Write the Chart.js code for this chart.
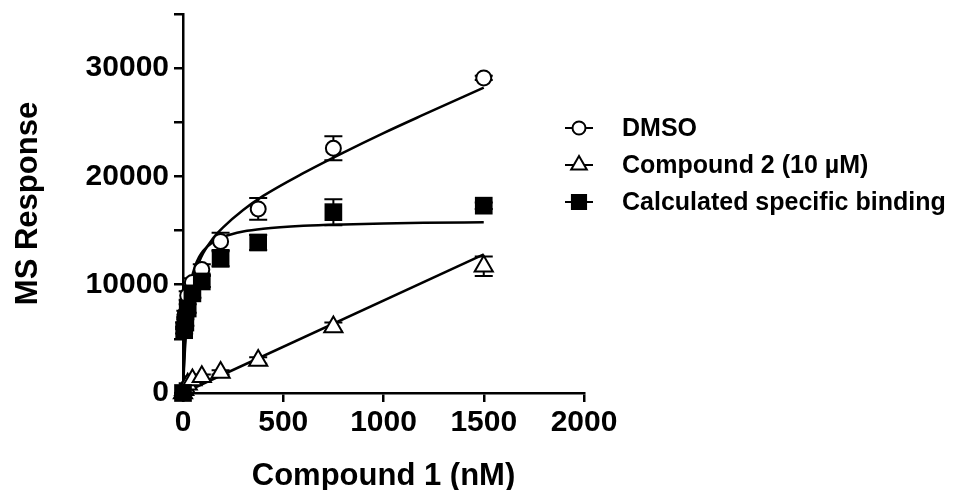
<!DOCTYPE html>
<html>
<head>
<meta charset="utf-8">
<script src="https://cdn.jsdelivr.net/npm/chart.js@4"></script>
<style>
html, body { margin: 0; padding: 0; background: #fff; }
#wrap { width: 957px; height: 490px; }
</style>
</head>
<body>
<div id="wrap"><canvas id="bindingChart"></canvas></div>
<script>
// Nồng độ Compound 1 (nM) và giá trị
const concentrations = [0, 5.86, 11.7, 23.4, 46.9, 93.75, 187.5, 375, 750, 1500];
const dmsoMean = [0, 6200, 7300, 9000, 10200, 11400, 14000, 17000, 22600, 29100];
const dmsoSd = [0, 300, 300, 400, 400, 500, 800, 1000, 1100, 200];
const cmpd2Mean = [0, 300, 500, 800, 1200, 1500, 1900, 3000, 6100, 11700];
const cmpd2Sd = [0, 100, 100, 100, 150, 200, 200, 300, 400, 900];
const specMean = [0, 5800, 6500, 7800, 9200, 10300, 12400, 13900, 16700, 17300];
const specSd = [0, 300, 300, 400, 400, 500, 700, 700, 1200, 300];

// Đường fit (đọc theo hình)
const fitX = [0, 2, 5, 10, 20, 30, 40, 60, 80, 100, 150, 200, 300, 400, 600, 800, 1000, 1200, 1500];
const dmsoFit = [0, 1000, 2300, 4100, 6600, 8300, 9500, 11100, 12100, 12900, 14300, 15300, 16900, 18200, 20300, 22200, 24000, 25700, 28200];
const specFit = [0, 1333, 2963, 5000, 7619, 9231, 10323, 11707, 12549, 13115, 13953, 14414, 14907, 15166, 15434, 15572, 15656, 15712, 15769];
const nsFitX = [0, 1500];
const nsFit = [0, 12800];

const xTickLabels = [0, 500, 1000, 1500, 2000];
const yTickLabels = [0, 10000, 20000, 30000];

const legendLabels = ['DMSO', 'Compound 2 (10 \u00b5M)', 'Calculated specific binding'];

const toPoints = (xs, ys) => xs.map((x, i) => ({ x: x, y: ys[i] }));

const errorBars = {
    id: 'errorBars',
    beforeDatasetsDraw(chart) {
        const { ctx, scales: { x, y } } = chart;
        ctx.save();
        ctx.strokeStyle = '#000';
        ctx.lineWidth = 2;
        chart.data.datasets.forEach(ds => {
            if (!ds.errors) return;
            ds.data.forEach((p, i) => {
                const e = ds.errors[i];
                if (!e) return;
                const px = x.getPixelForValue(p.x);
                const top = y.getPixelForValue(p.y + e);
                const bot = y.getPixelForValue(Math.max(0, p.y - e));
                ctx.beginPath();
                ctx.moveTo(px, top); ctx.lineTo(px, bot);
                ctx.moveTo(px - 9, top); ctx.lineTo(px + 9, top);
                ctx.moveTo(px - 9, bot); ctx.lineTo(px + 9, bot);
                ctx.stroke();
            });
        });
        ctx.restore();
    }
};

function drawMarker(ctx, style, cx, cy, r) {
    ctx.beginPath();
    if (style === 'circle') {
        ctx.arc(cx, cy, r, 0, Math.PI * 2);
        ctx.fillStyle = '#fff';
    } else if (style === 'triangle') {
        ctx.moveTo(cx, cy - r);
        ctx.lineTo(cx + r * 0.866, cy + r * 0.5);
        ctx.lineTo(cx - r * 0.866, cy + r * 0.5);
        ctx.closePath();
        ctx.fillStyle = '#fff';
    } else {
        ctx.rect(cx - r * 0.707, cy - r * 0.707, r * 1.414, r * 1.414);
        ctx.fillStyle = '#000';
    }
    ctx.fill();
    ctx.stroke();
}

const sideLegend = {
    id: 'sideLegend',
    afterDraw(chart) {
        const ctx = chart.ctx;
        const rows = [128, 165, 202];
        const styles = ['circle', 'triangle', 'rect'];
        const radii = [6.5, 9, 10];
        ctx.save();
        ctx.strokeStyle = '#000';
        ctx.lineWidth = 2;
        ctx.fillStyle = '#000';
        ctx.font = 'bold 25px "Liberation Sans", Arial, sans-serif';
        ctx.textBaseline = 'middle';
        legendLabels.forEach((label, i) => {
            const y = rows[i];
            ctx.beginPath();
            ctx.moveTo(565, y); ctx.lineTo(593, y);
            ctx.stroke();
            drawMarker(ctx, styles[i], 579, y, radii[i]);
            ctx.fillStyle = '#000';
            ctx.fillText(label, 622, y + 1);
        });
        ctx.restore();
    }
};

const tickFont = { family: '"Liberation Sans", Arial, sans-serif', size: 30, weight: 'bold' };
const titleFont = { family: '"Liberation Sans", Arial, sans-serif', size: 31, weight: 'bold' };

const ctx = document.getElementById('bindingChart').getContext('2d');
new Chart(ctx, {
    type: 'scatter',
    data: {
        datasets: [
            {
                label: legendLabels[0],
                data: toPoints(concentrations, dmsoMean),
                errors: dmsoSd,
                pointStyle: 'circle',
                pointRadius: 7.5,
                pointBackgroundColor: '#fff',
                pointBorderColor: '#000',
                pointBorderWidth: 2,
                showLine: false,
                clip: false,
                order: 0
            },
            {
                label: legendLabels[1],
                data: toPoints(concentrations, cmpd2Mean),
                errors: cmpd2Sd,
                pointStyle: 'triangle',
                pointRadius: 10.5,
                pointBackgroundColor: '#fff',
                pointBorderColor: '#000',
                pointBorderWidth: 2,
                showLine: false,
                clip: false,
                order: 0
            },
            {
                label: legendLabels[2],
                data: toPoints(concentrations, specMean),
                errors: specSd,
                pointStyle: 'rect',
                pointRadius: 12.5,
                pointBackgroundColor: '#000',
                pointBorderColor: '#000',
                pointBorderWidth: 0,
                showLine: false,
                clip: false,
                order: -1
            },
            {
                label: 'DMSO fit',
                data: toPoints(fitX, dmsoFit),
                showLine: true,
                borderColor: '#000',
                borderWidth: 2.5,
                pointRadius: 0,
                cubicInterpolationMode: 'monotone',
                clip: false,
                order: 1
            },
            {
                label: 'Compound 2 fit',
                data: toPoints(nsFitX, nsFit),
                showLine: true,
                borderColor: '#000',
                borderWidth: 2.5,
                pointRadius: 0,
                clip: false,
                order: 1
            },
            {
                label: 'Specific fit',
                data: toPoints(fitX, specFit),
                showLine: true,
                borderColor: '#000',
                borderWidth: 2.5,
                pointRadius: 0,
                cubicInterpolationMode: 'monotone',
                clip: false,
                order: 1
            }
        ]
    },
    options: {
        responsive: true,
        maintainAspectRatio: false,
        animation: false,
        layout: { padding: { left: 0, right: 373, top: 14, bottom: 0 } },
        plugins: {
            legend: { display: false },
            tooltip: { enabled: false }
        },
        scales: {
            x: {
                type: 'linear',
                min: 0,
                max: 2000,
                afterFit: s => { s.height = 97; s.paddingLeft = 0; s.paddingRight = 0; },
                afterBuildTicks: s => { s.ticks = xTickLabels.map(v => ({ value: v })); },
                ticks: { font: tickFont, color: '#000', padding: 3, maxRotation: 0, callback: v => String(v) },
                grid: { drawOnChartArea: false, drawTicks: true, tickLength: 9, color: '#000', lineWidth: 2.5 },
                border: { display: true, color: '#000', width: 2.5 },
                title: {
                    display: true,
                    text: 'Compound 1 (nM)',
                    color: '#000',
                    font: Object.assign({ lineHeight: 0.9 }, titleFont),
                    padding: { top: 0, bottom: 0 }
                }
            },
            y: {
                type: 'linear',
                min: 0,
                max: 35000,
                afterFit: s => { s.width = 183; s.paddingTop = 0; s.paddingBottom = 0; },
                ticks: {
                    stepSize: 5000,
                    font: tickFont,
                    color: '#000',
                    padding: 5,
                    callback: v => (yTickLabels.includes(v) ? String(v) : '')
                },
                grid: { drawOnChartArea: false, drawTicks: true, tickLength: 9, color: '#000', lineWidth: 2.5 },
                border: { display: true, color: '#000', width: 2.5 },
                title: {
                    display: true,
                    text: 'MS Response',
                    color: '#000',
                    font: titleFont,
                    padding: { top: 10, bottom: 0 }
                }
            }
        }
    },
    plugins: [errorBars, sideLegend]
});
</script>
</body>
</html>
